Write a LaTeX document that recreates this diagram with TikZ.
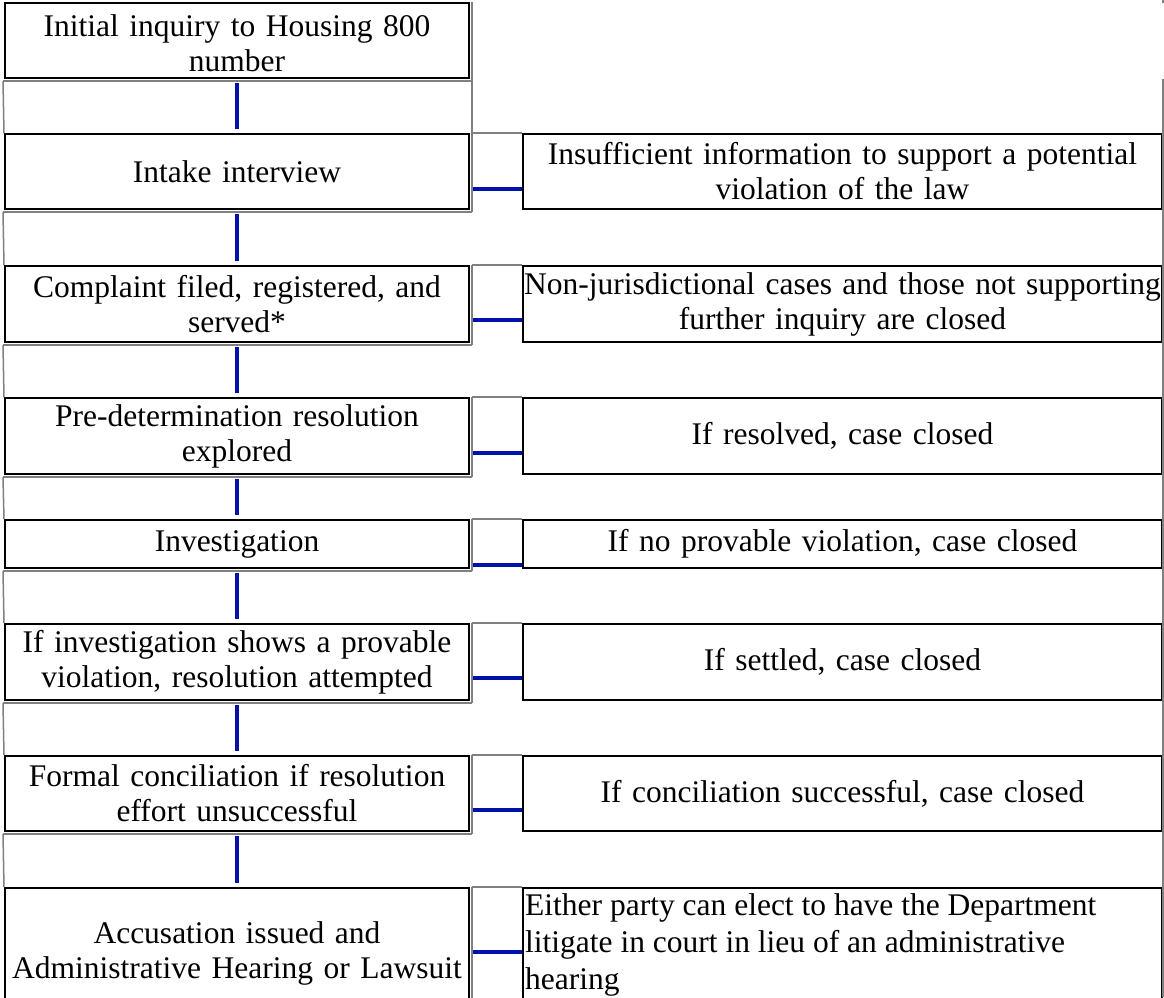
\documentclass[tikz,border=0pt]{standalone}
\usepackage{fontspec}
\setmainfont{Liberation Serif}
\definecolor{connblue}{RGB}{0,17,170}
\definecolor{cellgrey}{RGB}{128,128,128}
\begin{document}
\begin{tikzpicture}[x=1pt,y=-1pt,
  txt/.style={font=\fontsize{31.5}{35}\selectfont},
  lbox/.style={txt,draw=black,line width=2pt,inner sep=0pt,anchor=north west,
    align=center,minimum width=464pt,text width=464pt},
  rbox/.style={txt,draw=black,line width=2pt,inner sep=0pt,anchor=north west,
    align=center,minimum width=639pt,text width=639pt},
  vconn/.style={draw=connblue,line width=4pt},
  hconn/.style={draw=connblue,line width=4pt},
  gline/.style={draw=cellgrey,line width=1.5pt}]
\useasboundingbox (0,0) rectangle (1164,997);
\clip (0,0) rectangle (1164,997);

% left column
\node[lbox,minimum height=75pt] (l1) at (4,2) {\rule{0pt}{28pt}Initial inquiry to Housing 800\\number};
\node[lbox,minimum height=75pt] (l2) at (4,133) {Intake interview};
\node[lbox,minimum height=76pt] (l3) at (4,265) {Complaint filed, registered, and\\served*};
\node[lbox,minimum height=76pt] (l4) at (4,397) {Pre-determination resolution\\explored};
\node[lbox,minimum height=48pt] (l5) at (4,519) {Investigation};
\node[lbox,minimum height=76pt] (l6) at (4,623) {If investigation shows a provable\\violation, resolution attempted};
\node[lbox,minimum height=75pt] (l7) at (4,755) {Formal conciliation if resolution\\effort unsuccessful};
\node[lbox,minimum height=130pt] (l8) at (4,887) {Accusation issued and\\Administrative Hearing or Lawsuit};

% right column
\node[rbox,minimum height=75pt] (r2) at (522,133) {Insufficient information to support a potential\\violation of the law};
\node[rbox,minimum height=76pt] (r3) at (522,265) {Non-jurisdictional cases and those not supporting\\further inquiry are closed};
\node[rbox,minimum height=76pt] (r4) at (522,397) {If resolved, case closed};
\node[rbox,minimum height=48pt] (r5) at (522,519) {If no provable violation, case closed};
\node[rbox,minimum height=76pt] (r6) at (522,623) {If settled, case closed};
\node[rbox,minimum height=75pt] (r7) at (522,755) {If conciliation successful, case closed};
\node[rbox,minimum height=130pt] (r8) at (522,887) {};
\node[font=\fontsize{31.5}{37}\selectfont,inner sep=0pt,anchor=north west,align=left]
  (r8t) at ([shift={(3pt,-6pt)}]r8.north west)
  {Either party can elect to have the Department\\litigate in court in lieu of an administrative\\hearing};

% grey cell borders
\foreach \n in {l1,l2,l3,l4,l5,l6,l7}{
  \draw[gline] ([shift={(-1pt,-2pt)}]\n.south west) -- ([shift={(2pt,-2pt)}]\n.south east);
  \draw[gline] ([xshift=2pt]\n.north east) -- ([shift={(2pt,-2pt)}]\n.south east);
}
\draw[gline] ([xshift=2pt]l8.north east) -- ([xshift=2pt]l8.south east);
\draw[gline] ([xshift=2pt]l1.north east) -- ([xshift=2pt]l2.north east);
\foreach \a/\b in {l1/l2,l2/l3,l3/l4,l4/l5,l5/l6,l6/l7,l7/l8}{
  \draw[gline] ([shift={(-1pt,-2pt)}]\a.south west) -- (\b.north west);
}
\foreach \a/\b in {l2/r2,l3/r3,l4/r4,l5/r5,l6/r6,l7/r7,l8/r8}{
  \draw[gline] ([xshift=2pt]\a.north east) -- (\b.north west);
}
\coordinate (gmark) at (1163,0);
\coordinate (gmarkb) at (1163,3);
\draw[gline] (gmark) -- (gmarkb);
\coordinate (gtop) at (1163,79);
\coordinate (gbot) at (1163,997);
\draw[gline] (gtop) -- (gbot);

% vertical connectors
\foreach \a/\b in {l1/l2,l2/l3,l3/l4,l4/l5,l5/l6,l6/l7,l7/l8}{
  \draw[vconn] ([yshift=-4pt]\a.south) -- ([yshift=4pt]\b.north);
}

% horizontal connectors
\draw[hconn] ([shift={(3pt,21pt)}]l2.south east) -- ([yshift=21pt]r2.south west);
\draw[hconn] ([shift={(3pt,23pt)}]l3.south east) -- ([yshift=23pt]r3.south west);
\draw[hconn] ([shift={(3pt,22pt)}]l4.south east) -- ([yshift=22pt]r4.south west);
\draw[hconn] ([shift={(3pt,4pt)}]l5.south east) -- ([yshift=4pt]r5.south west);
\draw[hconn] ([shift={(3pt,23pt)}]l6.south east) -- ([yshift=23pt]r6.south west);
\draw[hconn] ([shift={(3pt,22pt)}]l7.south east) -- ([yshift=22pt]r7.south west);
\draw[hconn] ([shift={(3pt,67pt)}]l8.south east) -- ([yshift=67pt]r8.south west);
\end{tikzpicture}
\end{document}
